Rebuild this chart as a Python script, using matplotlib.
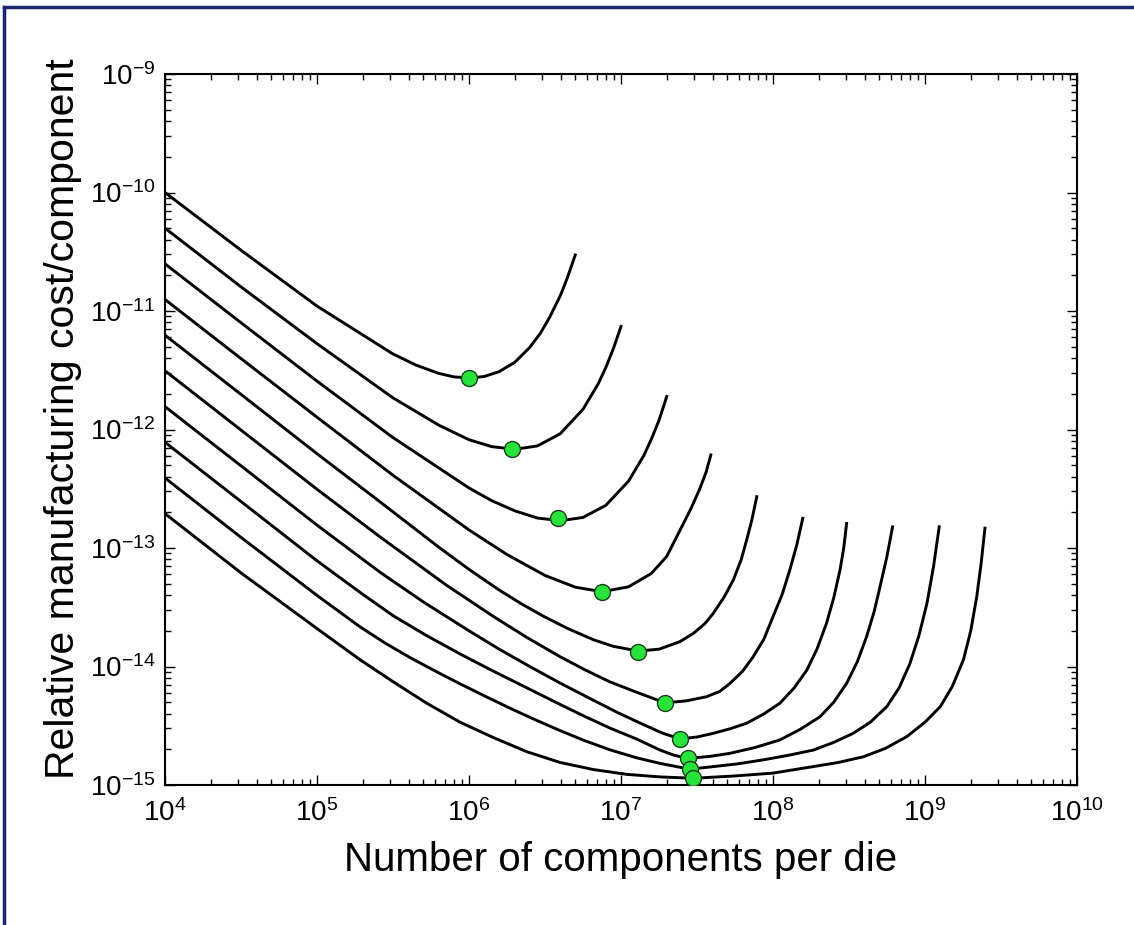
import matplotlib
matplotlib.use('Agg')
import matplotlib.pyplot as plt
from matplotlib.lines import Line2D
from matplotlib.ticker import LogLocator, NullFormatter

plt.rcParams['font.family'] = ['Liberation Sans', 'DejaVu Sans']

# cost curves (x = components per die, y = relative cost)
n1 = [1e4, 3.16e4, 1e5, 3.16e5, 4.47e5, 6.3e5, 7.94e5, 1e6, 1.26e6, 1.58e6, 2e6, 2.5e6, 2.95e6, 3.4e6,
      3.98e6, 4.2e6, 4.47e6, 5e6]
c1 = [1.0e-10, 3.26e-11, 1.1e-11, 4.34e-12, 3.5e-12, 2.98e-12, 2.78e-12, 2.72e-12, 2.8e-12, 3.08e-12, 3.69e-12,
      4.9e-12, 6.5e-12, 8.9e-12, 1.34e-11, 1.59e-11, 1.96e-11, 2.97e-11]

n2 = [1e4, 3.16e4, 1e5, 3.16e5, 6.31e5, 1e6, 1.41e6, 2e6, 2.82e6, 3.98e6, 5.62e6, 7.08e6, 7.94e6, 8.9e6, 1e7]
c2 = [5.0e-11, 1.6e-11, 5.3e-12, 1.85e-12, 1.09e-12, 8.2e-13, 7.17e-13, 6.8e-13, 7.27e-13, 9.2e-13, 1.48e-12,
      2.43e-12, 3.33e-12, 4.8e-12, 7.4e-12]

n3 = [1e4, 3.16e4, 1e5, 3.16e5, 1e6, 1.41e6, 2e6, 2.82e6, 4e6, 5.62e6, 7.94e6, 1.12e7, 1.41e7, 1.585e7,
      1.78e7, 2e7]
c3 = [2.5e-11, 7.97e-12, 2.56e-12, 8.55e-13, 3.21e-13, 2.51e-13, 2.06e-13, 1.79e-13, 1.7e-13, 1.81e-13,
      2.29e-13, 3.66e-13, 6.0e-13, 8.3e-13, 1.2e-12, 1.9e-12]

n4 = [1e4, 3.16e4, 1e5, 3.16e5, 1e6, 1.78e6, 3.16e6, 5.01e6, 7.5e6, 1.12e7, 1.585e7, 2e7, 2.45e7, 2.88e7,
      3.3e7, 3.63e7, 3.9e7]
c4 = [1.25e-11, 3.97e-12, 1.27e-12, 4.11e-13, 1.42e-13, 8.8e-14, 5.87e-14, 4.67e-14, 4.28e-14, 4.7e-14,
      6.1e-14, 8.5e-14, 1.42e-13, 2.14e-13, 3.16e-13, 4.37e-13, 6.1e-13]

n5 = [1e4, 3.16e4, 1e5, 2.6e5, 6.3e5, 1e6, 1.6e6, 2.24e6, 3.08e6, 4.47e6, 6.6e6, 8.9e6, 1.3e7, 1.78e7,
      2.44e7, 2.99e7, 3.55e7, 4.05e7, 4.79e7, 5.48e7, 6.17e7, 6.71e7, 7.24e7, 7.82e7]
c5 = [6.25e-12, 1.98e-12, 6.25e-13, 2.45e-13, 1.02e-13, 6.6e-14, 4.37e-14, 3.35e-14, 2.66e-14, 2.09e-14,
      1.68e-14, 1.48e-14, 1.35e-14, 1.4e-14, 1.62e-14, 1.9e-14, 2.29e-14, 2.81e-14, 3.89e-14, 5.37e-14,
      7.94e-14, 1.17e-13, 1.7e-13, 2.71e-13]

n6 = [1e4, 3.16e4, 1e5, 2.6e5, 7.13e5, 1.45e6, 2.4e6, 3.97e6, 5.75e6, 8.47e6, 1.26e7, 1.95e7, 2.69e7,
      3.66e7, 4.47e7, 5.21e7, 6.31e7, 7.41e7, 8.71e7, 1.0e8, 1.15e8, 1.29e8, 1.43e8, 1.57e8]
c6 = [3.13e-12, 9.9e-13, 3.13e-13, 1.24e-13, 4.84e-14, 2.64e-14, 1.76e-14, 1.21e-14, 9.42e-15, 7.41e-15,
      6.08e-15, 4.93e-15, 5.13e-15, 5.56e-15, 6.17e-15, 7.2e-15, 9.12e-15, 1.21e-14, 1.7e-14, 2.63e-14,
      4.07e-14, 6.52e-14, 1.05e-13, 1.78e-13]

n7 = [1e4, 3.16e4, 1e5, 2.6e5, 5.0e5, 1e6, 1.58e6, 2.51e6, 3.98e6, 6.58e6, 9.55e6, 1.4e7, 1.86e7, 2.44e7,
      3.16e7, 4.05e7, 5.25e7, 6.71e7, 8.71e7, 1.11e8, 1.38e8, 1.67e8, 1.95e8, 2.25e8, 2.51e8, 2.76e8,
      2.92e8, 3.05e8]
c7 = [1.56e-12, 4.94e-13, 1.56e-13, 6.24e-14, 3.51e-14, 2.0e-14, 1.4e-14, 1.0e-14, 7.24e-15, 5.19e-15,
      4.07e-15, 3.24e-15, 2.75e-15, 2.45e-15, 2.54e-15, 2.73e-15, 2.99e-15, 3.32e-15, 3.98e-15, 4.9e-15,
      6.61e-15, 9.33e-15, 1.41e-14, 2.32e-14, 3.8e-14, 6.52e-14, 1.0e-13, 1.61e-13]

n8 = [1e4, 3.16e4, 1e5, 1.92e5, 3.16e5, 5.27e5, 8.9e5, 1.45e6, 2.4e6, 3.97e6, 5.75e6, 8.47e6, 1.26e7,
      1.81e7, 2.24e7, 2.77e7, 3.8e7, 5.21e7, 7.59e7, 1.11e8, 1.51e8, 2.04e8, 2.51e8, 3.05e8, 3.59e8,
      4.13e8, 4.62e8, 5.06e8, 5.62e8, 6.12e8]
c8 = [7.8e-13, 2.47e-13, 7.8e-14, 4.22e-14, 2.69e-14, 1.82e-14, 1.26e-14, 9.12e-15, 6.61e-15, 4.79e-15,
      3.8e-15, 3.02e-15, 2.45e-15, 1.97e-15, 1.78e-15, 1.68e-15, 1.74e-15, 1.85e-15, 2.07e-15, 2.4e-15,
      2.95e-15, 3.77e-15, 5.0e-15, 7.2e-15, 1.1e-14, 1.79e-14, 2.88e-14, 4.71e-14, 8.5e-14, 1.51e-13]

n9 = [1e4, 3.16e4, 1e5, 1.92e5, 2.82e5, 4.09e5, 6.03e5, 8.73e5, 1.26e6, 1.86e6, 2.69e6, 3.97e6, 5.75e6,
      8.47e6, 1.26e7, 1.81e7, 2.84e7, 4.05e7, 5.89e7, 8.63e7, 1.26e8, 1.84e8, 2.51e8, 3.37e8, 4.37e8,
      5.6e8, 6.76e8, 7.96e8, 9.12e8, 1.03e9, 1.14e9, 1.24e9]
c9 = [3.9e-13, 1.23e-13, 3.98e-14, 2.16e-14, 1.57e-14, 1.19e-14, 9.12e-15, 7.14e-15, 5.66e-15, 4.45e-15,
      3.58e-15, 2.88e-15, 2.37e-15, 1.98e-15, 1.7e-15, 1.52e-15, 1.36e-15, 1.43e-15, 1.51e-15, 1.63e-15,
      1.78e-15, 1.97e-15, 2.29e-15, 2.73e-15, 3.39e-15, 4.58e-15, 6.61e-15, 1.06e-14, 1.82e-14, 3.41e-14,
      7.08e-14, 1.51e-13]

n10 = [1e4, 3.16e4, 1e5, 1.92e5, 3.18e5, 5.27e5, 8.73e5, 1.45e6, 2.4e6, 3.97e6, 6.58e6, 1.09e7, 1.81e7,
       2.99e7, 5.5e7, 1.0e8, 1.84e8, 2.69e8, 3.93e8, 5.5e8, 7.59e8, 1e9, 1.26e9, 1.51e9, 1.79e9, 2.0e9,
       2.19e9, 2.34e9, 2.48e9]
c10 = [1.95e-13, 6.17e-14, 2.09e-14, 1.14e-14, 7.41e-15, 4.9e-15, 3.39e-15, 2.51e-15, 1.91e-15, 1.55e-15,
       1.35e-15, 1.23e-15, 1.17e-15, 1.14e-15, 1.19e-15, 1.26e-15, 1.43e-15, 1.55e-15, 1.73e-15, 2.04e-15,
       2.56e-15, 3.39e-15, 4.58e-15, 6.76e-15, 1.14e-14, 2.0e-14, 3.88e-14, 7.41e-14, 1.47e-13]

# minimum-cost points (green dots)
min_n = [1.0e6, 1.92e6, 3.86e6, 7.5e6, 1.3e7, 1.95e7, 2.44e7, 2.77e7, 2.85e7, 2.99e7]
min_c = [2.72e-12, 6.8e-13, 1.78e-13, 4.28e-14, 1.33e-14, 4.9e-15, 2.45e-15, 1.68e-15, 1.36e-15, 1.14e-15]

curves = [(n1, c1), (n2, c2), (n3, c3), (n4, c4), (n5, c5),
          (n6, c6), (n7, c7), (n8, c8), (n9, c9), (n10, c10)]

fig = plt.figure(figsize=(11.34, 9.25), dpi=100)
ax = fig.add_axes([165 / 1134, 1 - 785 / 925, 912 / 1134, 711 / 925])

for n, c in curves:
    ax.plot(n, c, color='black', lw=2.1, solid_joinstyle='round', zorder=2)

ax.plot(min_n, min_c, 'o', ms=11.5, mfc='#27e33a', mec='#1b3d1b', mew=1.0, zorder=3)

ax.set_xscale('log')
ax.set_yscale('log')
ax.set_xlim(1e4, 1e10)
ax.set_ylim(1e-15, 1e-9)

for axis in (ax.xaxis, ax.yaxis):
    axis.set_major_locator(LogLocator(base=10, numticks=20))
    axis.set_minor_locator(LogLocator(base=10, subs=range(2, 10), numticks=20))
    axis.set_minor_formatter(NullFormatter())

ax.tick_params(which='both', direction='in', top=True, right=True, width=1.0, colors='black')
ax.tick_params(which='major', length=7, labelsize=20)
ax.tick_params(which='minor', length=4)
ax.tick_params(axis='x', which='major', pad=10)
ax.tick_params(axis='y', which='major', pad=7)
for sp in ax.spines.values():
    sp.set_linewidth(1.5)

ax.set_xlabel('Number of components per die', fontsize=29, va='center')
ax.xaxis.set_label_coords(0.5, -0.106)
ax.set_ylabel('Relative manufacturing cost/component', fontsize=29.5, va='center')
ax.yaxis.set_label_coords(-0.112, 0.5155)

# navy frame along the top and left edges
navy = '#1c2572'
fig.add_artist(Line2D([4 / 1134, 1.0], [1 - 7 / 925, 1 - 7 / 925], color=navy, lw=2.5))
fig.add_artist(Line2D([4 / 1134, 4 / 1134], [0.0, 1 - 7 / 925], color=navy, lw=2.5))

fig.savefig('out.png', dpi=100)
